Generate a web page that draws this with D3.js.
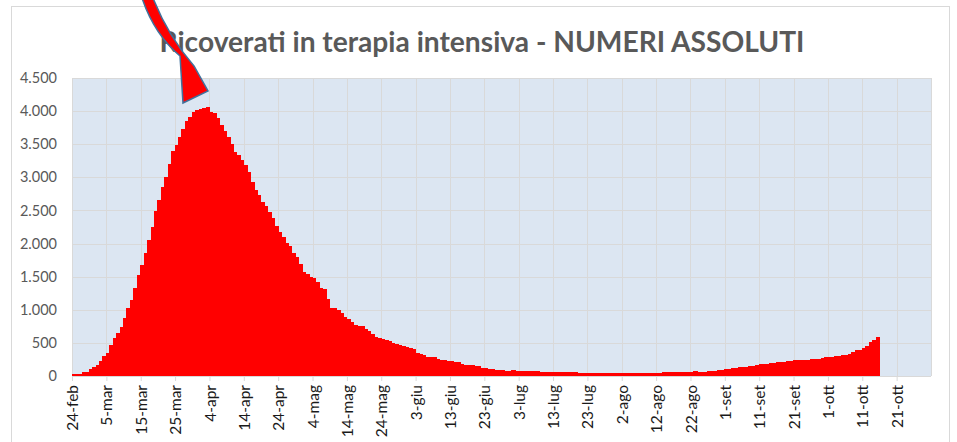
<!DOCTYPE html>
<html>
<head>
<meta charset="utf-8">
<script src="https://cdn.jsdelivr.net/npm/d3@7"></script>
<style>
  body { margin: 0; background: #fff; }
  svg { display: block; }
</style>
</head>
<body>
<svg id="chart"></svg>
<script>
// ricoverati in terapia intensiva, uno al giorno dal 24-feb al 15-ott
const title = "Ricoverati in terapia intensiva - NUMERI ASSOLUTI";

const tickLabels = ["24-feb", "5-mar", "15-mar", "25-mar", "4-apr", "14-apr", "24-apr", "4-mag",
  "14-mag", "24-mag", "3-giu", "13-giu", "23-giu", "3-lug", "13-lug", "23-lug", "2-ago", "12-ago",
  "22-ago", "1-set", "11-set", "21-set", "1-ott", "11-ott", "21-ott"];

const yTicks = [0, 500, 1000, 1500, 2000, 2500, 3000, 3500, 4000, 4500];

const febValues = [26, 35, 36, 56, 64, 105];
const marValues = [140, 166, 229, 295, 351, 462, 567, 650, 733, 877, 1028, 1153, 1328, 1518, 1672,
  1851, 2060, 2257, 2498, 2655, 2857, 3009, 3204, 3396, 3489, 3612, 3732, 3856, 3906, 3981, 4023];
const aprValues = [4035, 4053, 4068, 3994, 3977, 3898, 3792, 3693, 3605, 3497, 3381, 3343, 3260, 3186,
  3079, 2936, 2812, 2733, 2635, 2573, 2471, 2384, 2267, 2173, 2102, 2009, 1956, 1863, 1795, 1694];
const magValues = [1578, 1539, 1501, 1479, 1427, 1333, 1311, 1168, 1034, 1027, 999, 952, 893, 855, 808,
  775, 762, 749, 716, 676, 640, 595, 572, 553, 541, 521, 505, 489, 475, 450, 435];
const giuValues = [424, 408, 353, 338, 316, 293, 287, 283, 263, 249, 236, 227, 220, 209, 207, 178, 168,
  163, 161, 152, 148, 127, 115, 107, 103, 97, 94, 87, 83, 82];
const lugValues = [87, 79, 74, 71, 71, 72, 69, 69, 67, 65, 65, 64, 62, 62, 60, 60, 57, 56, 54, 49, 47, 48,
  49, 49, 44, 41, 41, 40, 41, 42, 41];
const agoValues = [42, 42, 41, 38, 40, 41, 42, 41, 43, 41, 45, 45, 48, 55, 56, 56, 58, 58, 58, 64, 66, 65,
  69, 66, 66, 67, 69, 74, 79, 86, 94];
const setValues = [107, 109, 120, 121, 133, 142, 143, 150, 154, 164, 174, 182, 187, 197, 201, 207, 208,
  215, 222, 229, 239, 244, 239, 246, 247, 251, 254, 264, 271, 280];
const ottValues = [291, 294, 297, 303, 319, 323, 337, 358, 387, 390, 420, 452, 514, 539, 586];

const values = [].concat(febValues, marValues, aprValues, magValues, giuValues,
  lugValues, agoValues, setValues, ottValues);

const W = 957, H = 442;
const margin = { top: 78, right: 26, bottom: 66, left: 72 };
const width = W - margin.left - margin.right;
const height = H - margin.top - margin.bottom;
const nDays = 250;

const svg = d3.select("#chart").attr("width", W).attr("height", H);

// cornice del grafico
svg.append("rect")
  .attr("x", 11.5).attr("y", 6.5)
  .attr("width", 938).attr("height", 460)
  .attr("fill", "#fff").attr("stroke", "#d9d9d9");

const x = d3.scaleLinear().domain([0, nDays]).range([0, width]);
const y = d3.scaleLinear().domain([0, 4500]).range([height, 0]);

const it = d3.formatLocale({ decimal: ",", thousands: ".", grouping: [3], currency: ["", "€"] });
const fmt = it.format(",");

const g = svg.append("g").attr("transform", `translate(${margin.left},${margin.top})`);

g.append("rect")
  .attr("width", width).attr("height", height)
  .attr("fill", "#dce6f2");

// griglia
g.append("g")
  .selectAll("line")
  .data(yTicks)
  .join("line")
  .attr("x1", 0).attr("x2", width)
  .attr("y1", d => Math.round(y(d)) + 0.5).attr("y2", d => Math.round(y(d)) + 0.5)
  .attr("stroke", "#d9d9d9");

g.append("g")
  .selectAll("line")
  .data(d3.range(0, nDays + 1, 10))
  .join("line")
  .attr("x1", d => Math.round(x(d)) + 0.5).attr("x2", d => Math.round(x(d)) + 0.5)
  .attr("y1", 0).attr("y2", height)
  .attr("stroke", "#d9d9d9");

// barre (senza spazi, come istogramma)
g.append("g")
  .attr("shape-rendering", "crispEdges")
  .selectAll("rect")
  .data(values)
  .join("rect")
  .attr("x", (d, i) => Math.floor(x(i)))
  .attr("width", (d, i) => Math.ceil(x(i + 1)) - Math.floor(x(i)))
  .attr("y", d => y(d))
  .attr("height", d => height - y(d))
  .attr("fill", "#ff0000");

// asse x
const xAxis = g.append("g")
  .attr("transform", `translate(0,${height})`)
  .call(d3.axisBottom(x)
    .tickValues(d3.range(0, 241, 10))
    .tickFormat((d, i) => tickLabels[i])
    .tickSize(5));
xAxis.select(".domain").attr("stroke", "#d9d9d9").attr("d", `M0,0.5H${width}`);
xAxis.selectAll(".tick line").attr("stroke", "#d9d9d9");
xAxis.selectAll("text")
  .attr("transform", "rotate(-90)")
  .attr("text-anchor", "end")
  .attr("x", -9).attr("y", 0).attr("dy", "0.36em")
  .style("font-family", "Lato, sans-serif")
  .style("font-size", "15.5px")
  .attr("fill", "#1a1a1a");

// asse y
const yAxis = g.append("g")
  .call(d3.axisLeft(y).tickValues(yTicks).tickFormat(fmt).tickSize(0));
yAxis.select(".domain").remove();
yAxis.selectAll("text")
  .attr("x", -15)
  .style("font-family", "Lato, sans-serif")
  .style("font-size", "14.5px")
  .attr("fill", "#595959");

// titolo
const t = svg.append("text")
  .attr("x", 482).attr("y", 52)
  .attr("text-anchor", "middle")
  .style("font-family", "Lato, sans-serif")
  .style("font-weight", "bold")
  .style("font-size", "24px")
  .attr("fill", "#595959")
  .text(title);
const tw = t.node().getComputedTextLength();
t.style("font-size", (24 * 645 / tw).toFixed(2) + "px");

// freccia verso il picco
svg.append("path")
  .attr("d", "M142,-2 Q154,34 180,56 L183,103 L208,91 L194,66 Q168,36 153,-2 Z")
  .attr("fill", "#ff0000")
  .attr("stroke", "#41719c")
  .attr("stroke-width", 1.5)
  .attr("stroke-linejoin", "miter");
</script>
</body>
</html>
